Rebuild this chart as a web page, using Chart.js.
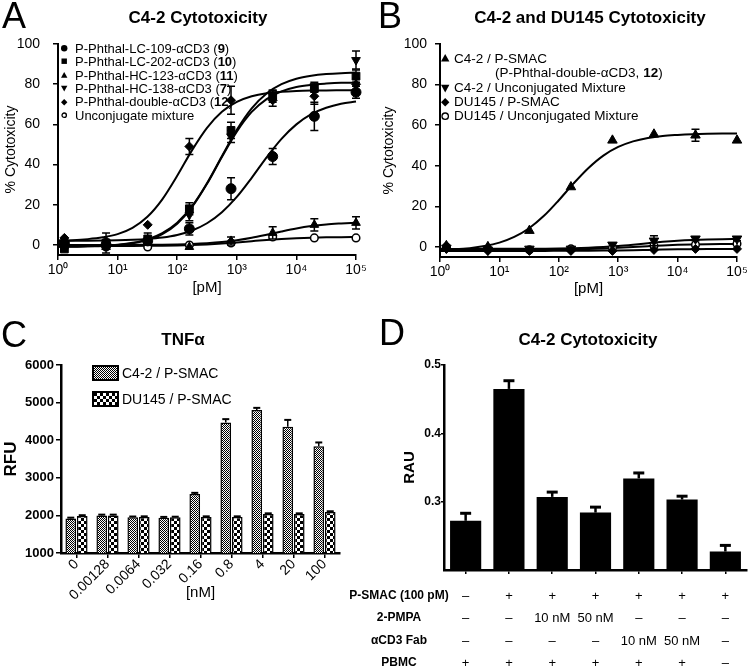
<!DOCTYPE html>
<html><head><meta charset="utf-8">
<script src="https://cdn.jsdelivr.net/npm/chart.js@4.4.1/dist/chart.umd.min.js"></script>
<style>
body{margin:0;background:#fff;}
#fig{position:relative;width:754px;height:671px;overflow:hidden;font-family:'Liberation Sans',Arial,Helvetica,sans-serif;color:#000;background:#fff;}
canvas{position:absolute;}
.t{position:absolute;white-space:nowrap;line-height:1;}
.letter{font-size:36px;}
.c{transform:translateX(-50%);}
svg{position:absolute;overflow:visible;}
.box{position:absolute;width:23px;height:12px;border:2px solid #000;}
</style></head>
<body><div id="fig">
<canvas id="cA" width="377" height="300" style="left:0;top:0"></canvas>
<canvas id="cB" width="377" height="300" style="left:377px;top:0"></canvas>
<canvas id="cC" width="377" height="285" style="left:0;top:320px"></canvas>
<canvas id="cD" width="377" height="260" style="left:377px;top:320px"></canvas>
</div>
<script>
// ---------- data ----------
const concPM = [1.28, 6.4, 32, 160, 800, 4000, 20000, 100000];
const curvePM = [1, 1.778, 3.162, 5.623, 10, 17.78, 31.62, 56.23, 100, 177.8, 316.2, 562.3, 1000, 1778, 3162, 5623, 10000, 17783, 31623, 56234, 100000];
const decadeTicks = [1, 10, 100, 1000, 10000, 100000];

// Panel A points
const aLC109 = [1, 0, 2, 8, 28, 44, 64, 76];
const aLC109Err = [0, 0, 0, 3, 5.5, 4, 7, 3];
const aLC202 = [-2, 1, 3, 18, 57, 74, 78, 84];
const aLC202Err = [0, 5, 3, 3, 4, 3, 2, 3];
const aHC123 = [2, -1, 1, -1, 2, 6, 10, 11];
const aHC123Err = [0, 0, 0, 0, 2, 3, 3, 3];
const aHC138 = [0, 0, 2, 15, 54, 75, 79, 92];
const aHC138Err = [0, 0, 0, 3, 3, 2, 2, 4.5];
const aDouble = [3.5, 2, 10, 49, 72, 72, 74, 80];
const aDoubleErr = [0, 0, 0, 4, 7, 3, 4, 3];
const aUnconj = [-1, -1, -1, 0, 1, 4, 3.5, 3.5];
// Panel A fitted curves (read along curvePM)
const aLC109Fit = [2.03, 2.06, 2.1, 2.18, 2.3, 2.56, 3.0, 3.74, 5.0, 7.2, 10.8, 16.3, 23.9, 33.4, 43.6, 52.8, 60.0, 65.1, 68.3, 70.3, 71.4];
const aLC202Fit = [-0.9, -0.9, -0.7, -0.5, -0.05, 0.8, 2.5, 5.4, 10.6, 18.9, 30.4, 43.8, 56.4, 66.2, 72.6, 76.4, 78.6, 79.7, 80.3, 80.7, 80.8];
const aHC138Fit = [-0.9, -0.8, -0.7, -0.4, 0.1, 1.05, 2.8, 5.9, 11.1, 19.3, 30.7, 44.1, 57.3, 68.0, 75.4, 80.0, 82.7, 84.2, 85.05, 85.5, 85.7];
const aDoubleFit = [2.2, 2.4, 2.9, 3.8, 5.4, 8.5, 14.0, 22.7, 34.4, 47.2, 58.3, 66.3, 71.2, 74.0, 75.5, 76.2, 76.6, 76.8, 76.9, 76.95, 77.0];
const aHC123Fit = [0, 0, 0.01, 0.02, 0.03, 0.05, 0.09, 0.16, 0.28, 0.49, 0.85, 1.42, 2.31, 3.55, 5.09, 6.73, 8.23, 9.4, 10.2, 10.7, 11.1];
const aUnconjFit = [-0.5, -0.5, -0.5, -0.5, -0.49, -0.48, -0.44, -0.35, -0.23, -0.05, 0.25, 0.68, 1.24, 1.88, 2.5, 3.01, 3.38, 3.63, 3.79, 3.88, 3.93];

// Panel B
const bC42Psmac = [0.5, 0, 8, 29.5, 52.5, 55.5, 55, 52.5];
const bC42PsmacErr = [0, 0, 0, 0, 0, 0, 3, 0];
const bC42Unconj = [-0.5, -1.5, -1, -1, 1, 3, 4, 4];
const bC42UnconjErr = [0, 0, 0, 0, 0, 2.5, 1, 1];
const bDUPsmac = [-1, -2, -2, -2, -2, -1.5, -1, -1];
const bDUUnconj = [0, -1, -1.5, -1, -0.5, 0.5, 1, 1.5];
const bC42PsmacFit = [-1.56, -1.23, -0.64, 0.38, 2.09, 4.9, 9.2, 15.3, 23.0, 31.3, 38.9, 45.0, 49.25, 52.0, 53.7, 54.7, 55.2, 55.55, 55.76, 55.87, 55.93];
const bC42UnconjFit = [-1, -1, -1, -0.99, -0.98, -0.96, -0.94, -0.89, -0.81, -0.66, -0.44, -0.09, 0.42, 1.07, 1.79, 2.46, 3.0, 3.38, 3.63, 3.78, 3.88];
const bDUPsmacFit = [-2, -2, -2, -2, -2, -2, -2, -1.99, -1.97, -1.95, -1.91, -1.85, -1.76, -1.64, -1.5, -1.36, -1.24, -1.15, -1.09, -1.05, -1.03];
const bDUUnconjFit = [-1.5, -1.5, -1.5, -1.49, -1.49, -1.47, -1.45, -1.42, -1.36, -1.24, -1.09, -0.83, -0.5, -0.08, 0.34, 0.72, 1.0, 1.2, 1.32, 1.39, 1.44];

// Panel C
const cConc = ['0', '0.00128', '0.0064', '0.032', '0.16', '0.8', '4', '20', '100'];
const cC42 = [1920, 2000, 1950, 1940, 2570, 4470, 4800, 4360, 3840];
const cC42Err = [20, 20, 20, 20, 30, 90, 60, 180, 100];
const cDU145 = [1985, 2000, 1960, 1950, 1960, 1960, 2040, 2040, 2090];
const cDU145Err = [20, 20, 15, 15, 15, 15, 15, 15, 20];
const cTicks = [1000, 2000, 3000, 4000, 5000, 6000];

// Panel D
const dValues = [0.272, 0.465, 0.307, 0.284, 0.334, 0.303, 0.227];
const dErr = [0.011, 0.012, 0.007, 0.008, 0.008, 0.005, 0.009];
const dTicks = [0.3, 0.4, 0.5];
const dRowLabels = ['P-SMAC (100 pM)', '2-PMPA', 'αCD3 Fab', 'PBMC'];
const dPsmac = ['–', '+', '+', '+', '+', '+', '+'];
const dPmpa = ['–', '–', '10 nM', '50 nM', '–', '–', '–'];
const dFab = ['–', '–', '–', '–', '10 nM', '50 nM', '–'];
const dPbmc = ['+', '+', '+', '+', '+', '+', '–'];

// ---------- helpers ----------
Chart.defaults.font.family = "'Liberation Sans', Arial, Helvetica, sans-serif";
Chart.defaults.color = '#000';
const fig = document.getElementById('fig');
function addText(x, yc, text, size, opts) {
  opts = opts || {};
  const d = document.createElement('div');
  d.className = 't' + (opts.cls ? ' ' + opts.cls : '');
  d.style.fontSize = size + 'px';
  if (opts.bold) d.style.fontWeight = 'bold';
  d.style.left = x + 'px';
  d.style.top = (yc - 0.49 * size) + 'px';
  d.innerHTML = text;
  fig.appendChild(d);
  return d;
}
function marker(cx, cy, shape, s) {
  const ns = 'http://www.w3.org/2000/svg';
  const svg = document.createElementNS(ns, 'svg');
  svg.setAttribute('width', 2 * s); svg.setAttribute('height', 2 * s);
  svg.style.left = (cx - s) + 'px'; svg.style.top = (cy - s) + 'px';
  let el;
  if (shape === 'circle' || shape === 'open') {
    el = document.createElementNS(ns, 'circle');
    el.setAttribute('cx', s); el.setAttribute('cy', s); el.setAttribute('r', shape === 'open' ? s - 1 : s);
  } else {
    el = document.createElementNS(ns, 'polygon');
    let p;
    if (shape === 'square') p = [[0.15,0.15],[1.85,0.15],[1.85,1.85],[0.15,1.85]];
    if (shape === 'up') p = [[1,0],[2,1.8],[0,1.8]];
    if (shape === 'down') p = [[0,0.2],[2,0.2],[1,2]];
    if (shape === 'diamond') p = [[1,0],[2,1],[1,2],[0,1]];
    el.setAttribute('points', p.map(q => (q[0] * s) + ',' + (q[1] * s)).join(' '));
  }
  if (shape === 'open') { el.setAttribute('fill', '#fff'); el.setAttribute('stroke', '#000'); el.setAttribute('stroke-width', '1.3'); }
  else el.setAttribute('fill', '#000');
  svg.appendChild(el);
  fig.appendChild(svg);
}
const zip = (xs, ys) => xs.map((x, i) => ({x: x, y: ys[i]}));
function curveDS(ys) {
  return {type: 'line', data: zip(curvePM, ys), borderColor: '#000', borderWidth: 2, pointRadius: 0,
    cubicInterpolationMode: 'monotone', fill: false, clip: false, order: 2};
}
function ptsDS(ys, errs, style, rot, r, open) {
  return {type: 'line', showLine: false, data: zip(concPM, ys), errors: errs,
    pointStyle: style, pointRotation: rot, pointRadius: r,
    pointBackgroundColor: open ? '#fff' : '#000', pointBorderColor: '#000', pointBorderWidth: open ? 1.5 : 1,
    clip: false, order: 1, errCap: 4, errWidth: 1.5};
}
const errorBars = {
  id: 'errorBars',
  afterDatasetsDraw(chart) {
    const ctx = chart.ctx;
    chart.data.datasets.forEach((ds, di) => {
      if (!ds.errors) return;
      const meta = chart.getDatasetMeta(di);
      const ys = chart.scales[meta.yAxisID];
      ctx.save();
      ctx.strokeStyle = '#000';
      meta.data.forEach((el, i) => {
        const e = ds.errors[i];
        if (!e) return;
        const raw = ds.data[i];
        const val = (typeof raw === 'object') ? raw.y : raw;
        const x = el.x;
        const yTop = ys.getPixelForValue(val + e);
        const yBot = ds.errUp ? el.y : ys.getPixelForValue(val - e);
        const cw = ds.errCap;
        ctx.lineWidth = ds.errWidth;
        ctx.beginPath();
        ctx.moveTo(x, yTop); ctx.lineTo(x, yBot); ctx.stroke();
        ctx.lineWidth = ds.capWidth || ds.errWidth;
        ctx.beginPath();
        ctx.moveTo(x - cw, yTop); ctx.lineTo(x + cw, yTop);
        if (!ds.errUp) { ctx.moveTo(x - cw, yBot); ctx.lineTo(x + cw, yBot); }
        ctx.stroke();
      });
      ctx.restore();
    });
  }
};
const sup = ['⁰', '¹', '²', '³', '⁴', '⁵'];
function logX(padBottom) {
  return {type: 'logarithmic', min: 1, max: 100000,
    afterBuildTicks: s => { s.ticks = decadeTicks.map(v => ({value: v})); },
    ticks: {font: {size: 14}, padding: 2, maxRotation: 0, autoSkip: false,
      callback: v => '10' + sup[Math.round(Math.log10(v))]},
    grid: {drawOnChartArea: false, drawTicks: true, tickLength: 5, color: '#000', lineWidth: 1.5},
    border: {color: '#000', width: 2},
    title: {display: true, text: '[pM]', font: {size: 15}, padding: {top: 0, bottom: padBottom}}};
}
function pctY(w, pad, titlePad) {
  return {type: 'linear', min: -5, max: 100,
    afterBuildTicks: s => { s.ticks = [0, 20, 40, 60, 80, 100].map(v => ({value: v})); },
    afterFit: s => { s.width = w; },
    ticks: {font: {size: 14}, padding: pad},
    grid: {drawOnChartArea: false, drawTicks: true, tickLength: 5, color: '#000', lineWidth: 1.5},
    border: {color: '#000', width: 2},
    title: {display: true, text: '% Cytotoxicity', font: {size: 14}, padding: {top: titlePad, bottom: 0}}};
}
const common = {responsive: false, animation: false, devicePixelRatio: 1, events: [],
  plugins: {legend: {display: false}, tooltip: {enabled: false}}};

// ---------- Panel A ----------
const xA = logX(3); xA.afterFit = s => { s.height = 45; };
new Chart(document.getElementById('cA'), {
  type: 'line',
  data: {datasets: [
    curveDS(aLC109Fit), curveDS(aLC202Fit), curveDS(aHC123Fit), curveDS(aHC138Fit), curveDS(aDoubleFit), curveDS(aUnconjFit),
    ptsDS(aLC109, aLC109Err, 'circle', 0, 5, false),
    ptsDS(aLC202, aLC202Err, 'rect', 0, 5.5, false),
    ptsDS(aHC123, aHC123Err, 'triangle', 0, 5, false),
    ptsDS(aHC138, aHC138Err, 'triangle', 180, 5, false),
    ptsDS(aDouble, aDoubleErr, 'rectRot', 0, 4.5, false),
    ptsDS(aUnconj, null, 'circle', 0, 3.8, true)
  ]},
  options: Object.assign({}, common, {
    layout: {padding: {top: 44, right: 21, left: 0, bottom: 0}},
    scales: {x: xA, y: pctY(58, 13, 3)}
  }),
  plugins: [errorBars]
});

// ---------- Panel B ----------
const xB = logX(2); xB.afterFit = s => { s.height = 43; };
new Chart(document.getElementById('cB'), {
  type: 'line',
  data: {datasets: [
    curveDS(bC42PsmacFit), curveDS(bC42UnconjFit), curveDS(bDUPsmacFit), curveDS(bDUUnconjFit),
    ptsDS(bC42Psmac, bC42PsmacErr, 'triangle', 0, 5.5, false),
    ptsDS(bC42Unconj, bC42UnconjErr, 'triangle', 180, 5.5, false),
    ptsDS(bDUPsmac, null, 'rectRot', 0, 4.5, false),
    ptsDS(bDUUnconj, null, 'circle', 0, 3.8, true)
  ]},
  options: Object.assign({}, common, {
    layout: {padding: {top: 44, right: 17, left: 0, bottom: 0}},
    scales: {x: xB, y: pctY(63, 8, 4)}
  }),
  plugins: [errorBars]
});

// ---------- Panel C ----------
function pattern(kind) {
  const c = document.createElement('canvas');
  const g = c.getContext('2d');
  if (kind === 'fine') {
    c.width = 2; c.height = 2;
    g.fillStyle = '#fff'; g.fillRect(0, 0, 2, 2);
    g.fillStyle = '#000'; g.fillRect(0, 0, 1, 1); g.fillRect(1, 1, 1, 1);
  } else {
    c.width = 6; c.height = 6;
    g.fillStyle = '#000'; g.fillRect(0, 0, 6, 6);
    g.fillStyle = '#fff'; g.fillRect(0, 0, 3, 3); g.fillRect(3, 3, 3, 3);
  }
  return g.createPattern(c, 'repeat');
}
new Chart(document.getElementById('cC'), {
  type: 'bar',
  data: {labels: cConc, datasets: [
    {data: cC42, errors: cC42Err, errUp: true, errCap: 3.5, errWidth: 1.5, capWidth: 2,
      backgroundColor: pattern('fine'), borderColor: '#000', borderWidth: 1.5,
      barPercentage: 0.93, categoryPercentage: 0.74},
    {data: cDU145, errors: cDU145Err, errUp: true, errCap: 3.5, errWidth: 1.5, capWidth: 2,
      backgroundColor: pattern('coarse'), borderColor: '#000', borderWidth: 1.5,
      barPercentage: 0.93, categoryPercentage: 0.74}
  ]},
  options: Object.assign({}, common, {
    layout: {padding: {top: 45, right: 37, left: 0, bottom: 0}},
    scales: {
      x: {afterFit: s => { s.height = 52; },
        ticks: {font: {size: 14}, minRotation: 45, maxRotation: 45, padding: -2, autoSkip: false},
        grid: {drawOnChartArea: false, drawTicks: true, tickLength: 5, color: '#000', lineWidth: 1.5, offset: false},
        border: {color: '#000', width: 2.5},
        title: {display: true, text: '[nM]', font: {size: 15}, padding: {top: 0, bottom: 3}}},
      y: {min: 1000, max: 6000,
        afterBuildTicks: s => { s.ticks = cTicks.map(v => ({value: v})); },
        afterFit: s => { s.width = 61; },
        ticks: {font: {size: 13, weight: 'bold'}, padding: 2, callback: v => String(v)},
        grid: {drawOnChartArea: false, drawTicks: true, tickLength: 5, color: '#000', lineWidth: 1.5},
        border: {color: '#000', width: 2.5},
        title: {display: true, text: 'RFU', font: {size: 17, weight: 'bold'}, padding: {top: 1, bottom: 0}}}
    }
  }),
  plugins: [errorBars]
});

// ---------- Panel D ----------
const chartD = new Chart(document.getElementById('cD'), {
  type: 'bar',
  data: {labels: dValues.map((v, i) => String(i + 1)), datasets: [
    {data: dValues, errors: dErr, errUp: true, errCap: 5.5, errWidth: 2.5, capWidth: 3,
      backgroundColor: '#000', borderWidth: 0, barPercentage: 0.72, categoryPercentage: 1}
  ]},
  options: Object.assign({}, common, {
    layout: {padding: {top: 45, right: 7, left: 0, bottom: 0}},
    scales: {
      x: {afterFit: s => { s.height = 10; },
        ticks: {display: false},
        grid: {drawOnChartArea: false, drawTicks: true, tickLength: 4, color: '#000', lineWidth: 1.5, offset: false},
        border: {color: '#000', width: 2.5}},
      y: {min: 0.2, max: 0.5,
        afterBuildTicks: s => { s.ticks = dTicks.map(v => ({value: v})); },
        afterFit: s => { s.width = 67; },
        ticks: {font: {size: 12, weight: 'bold'}, padding: 0, callback: v => v.toFixed(1)},
        grid: {drawOnChartArea: false, drawTicks: true, tickLength: 3, color: '#000', lineWidth: 1.5},
        border: {color: '#000', width: 2.5},
        title: {display: true, text: 'RAU', font: {size: 15, weight: 'bold'}, padding: {top: 24, bottom: 0}}}
    }
  }),
  plugins: [errorBars]
});

// ---------- text overlays ----------
addText(2, 16, 'A', 36, {cls: 'letter'});
addText(378, 16, 'B', 36, {cls: 'letter'});
addText(1, 335, 'C', 36, {cls: 'letter'});
addText(379, 333, 'D', 36, {cls: 'letter'});
addText(198, 17, 'C4-2 Cytotoxicity', 17, {cls: 'c', bold: true});
addText(590, 17, 'C4-2 and DU145 Cytotoxicity', 17, {cls: 'c', bold: true});
addText(183, 339, 'TNFα', 17, {cls: 'c', bold: true});
addText(588, 339, 'C4-2 Cytotoxicity', 17, {cls: 'c', bold: true});

// legend A
const legA = [['circle', 'P-Phthal-LC-109-αCD3 (<b>9</b>)'], ['square', 'P-Phthal-LC-202-αCD3 (<b>10</b>)'],
  ['up', 'P-Phthal-HC-123-αCD3 (<b>11</b>)'], ['down', 'P-Phthal-HC-138-αCD3 (<b>7</b>)'],
  ['diamond', 'P-Phthal-double-αCD3 (<b>12</b>)'], ['open', 'Unconjugate mixture']];
legA.forEach((r, i) => {
  const y = 48.3 + i * 13.35;
  marker(64, y, r[0], 3.2);
  addText(75, y, r[1], 13);
});
// legend B
const legB = [[58.3, 'up', 'C4-2 / P-SMAC'], [72.7, null, '(P-Phthal-double-αCD3, <b>12</b>)'],
  [87.7, 'down', 'C4-2 / Unconjugated Mixture'], [101.7, 'diamond', 'DU145 / P-SMAC'],
  [116, 'open', 'DU145 / Unconjugated Mixture']];
legB.forEach(r => {
  if (r[1]) { marker(445, r[0], r[1], 4.2); addText(454, r[0], r[2], 13.5); }
  else addText(495, r[0], r[2], 13.5);
});
// legend C
const b1 = document.createElement('div'); b1.className = 'box';
b1.style.left = '92px'; b1.style.top = '365px';
b1.style.background = 'repeating-conic-gradient(#000 0 25%, #fff 0 50%) 0 0/2px 2px';
fig.appendChild(b1);
const b2 = document.createElement('div'); b2.className = 'box';
b2.style.left = '92px'; b2.style.top = '391px';
b2.style.background = 'repeating-conic-gradient(#fff 0 25%, #000 0 50%) 0 0/6px 6px';
fig.appendChild(b2);
addText(122, 372.5, 'C4-2 / P-SMAC', 14);
addText(122, 398.5, 'DU145 / P-SMAC', 14);

// table D
const rowsY = [595, 617, 640, 662];
dRowLabels.forEach((t, r) => addText(399, rowsY[r], t, 12, {cls: 'c', bold: true}));
const sx = chartD.scales.x;
[dPsmac, dPmpa, dFab, dPbmc].forEach((row, r) => {
  row.forEach((t, i) => addText(377 + sx.getPixelForValue(i), rowsY[r], t, 13, {cls: 'c'}));
});
</script>
</body></html>
